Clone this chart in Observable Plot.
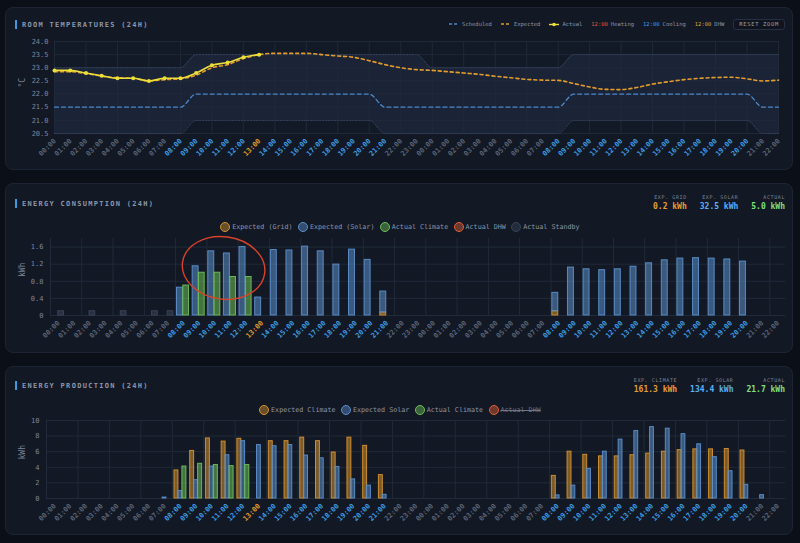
<!DOCTYPE html>
<html>
<head>
<meta charset="utf-8">
<script src="https://cdn.jsdelivr.net/npm/d3@7"></script>
<script src="https://cdn.jsdelivr.net/npm/@observablehq/plot@0.6"></script>
<style>
  html, body { margin: 0; padding: 0; }
  body { width: 800px; height: 543px; overflow: hidden; background: #0b0f17; font-family: "DejaVu Sans Mono", monospace; position: relative; }
  .panel { position: absolute; left: 5px; width: 788px; background: #121824; border: 1px solid #1d2433; border-radius: 8px; box-sizing: border-box; }
  .title { position: absolute; left: 15px; height: 9px; display: flex; align-items: center; font-size: 7px; font-weight: bold; letter-spacing: 1.3px; color: #8c96a9; }
  .title::before { content: ""; width: 2px; height: 9px; background: #3b9ae0; margin-right: 5px; }
  .chart { position: absolute; left: 0; }
  .stats { position: absolute; right: 15px; display: flex; gap: 13px; }
  .stat { display: flex; flex-direction: column; align-items: flex-end; }
  .stat .lab { font-size: 5px; letter-spacing: 0.6px; line-height: 6px; color: #7c8598; }
  .stat .val { font-size: 8px; font-weight: bold; line-height: 10px; margin-top: 1.5px; }
  .legend { position: absolute; left: 0; width: 800px; height: 10px; display: flex; justify-content: center; align-items: center; font-size: 6.7px; color: #8d96a8; }
  .legend .item { display: flex; align-items: center; margin: 0 2.8px; }
  .legend .sw { width: 8px; height: 8px; border-radius: 50%; border: 1px solid; margin-right: 1.8px; }
  .legend .off { text-decoration: line-through; opacity: 0.75; }
  .toplegend { position: absolute; top: 19px; right: 15px; height: 10px; display: flex; align-items: center; font-size: 5.5px; color: #8d96a8; }
  .toplegend .item { display: flex; align-items: center; margin-right: 9px; }
  .toplegend svg { margin-right: 3px; }
  .toplegend .t { margin-right: 3px; }
  .btn { height: 11px; box-sizing: border-box; padding: 0 5px; border: 1px solid #273043; border-radius: 3px; background: #0f141f; display: flex; align-items: center; letter-spacing: 0.66px; color: #9aa3b5; }
</style>
</head>
<body>
<div class="panel" style="top:7px;height:163px"></div>
<div class="panel" style="top:183px;height:170px"></div>
<div class="panel" style="top:366px;height:169px"></div>

<div class="title" style="top:20px">ROOM TEMPERATURES (24H)</div>
<div class="title" style="top:199px">ENERGY CONSUMPTION (24H)</div>
<div class="title" style="top:381px">ENERGY PRODUCTION (24H)</div>

<div class="toplegend" id="tempLegend"></div>
<div class="stats" id="consStats" style="top:194px"></div>
<div class="stats" id="prodStats" style="top:377px"></div>
<div class="legend" id="consLegend" style="top:222px"></div>
<div class="legend" id="prodLegend" style="top:405px"></div>

<div class="chart" id="tempChart" style="top:35px"></div>
<div class="chart" id="consChart" style="top:232px"></div>
<div class="chart" id="prodChart" style="top:414px"></div>

<script>
// ---- Hour axis (two days, hourly) ----
const hourLabels = [
  "00:00","01:00","02:00","03:00","04:00","05:00","06:00","07:00","08:00","09:00","10:00","11:00",
  "12:00","13:00","14:00","15:00","16:00","17:00","18:00","19:00","20:00","21:00","22:00","23:00",
  "00:00","01:00","02:00","03:00","04:00","05:00","06:00","07:00","08:00","09:00","10:00","11:00",
  "12:00","13:00","14:00","15:00","16:00","17:00","18:00","19:00","20:00","21:00","22:00"
];
// o = idle, c = cooling, d = hot water
const hourMode = [
  "o","o","o","o","o","o","o","o","c","c","c","c","c","d","c","c","c","c","c","c","c","c","o","o",
  "o","o","o","o","o","o","o","o","c","c","c","c","c","c","c","c","c","c","c","c","c","o","o"
];

// ---- Room temperatures (°C) ----
const tempTicks = [20.5, 21.0, 21.5, 22.0, 22.5, 23.0, 23.5, 24.0];
const scheduledTemp = [
  21.5,21.5,21.5,21.5,21.5,21.5,21.5,21.5,21.5,22.0,22.0,22.0,22.0,22.0,22.0,22.0,22.0,22.0,22.0,22.0,22.0,21.5,21.5,21.5,
  21.5,21.5,21.5,21.5,21.5,21.5,21.5,21.5,21.5,22.0,22.0,22.0,22.0,22.0,22.0,22.0,22.0,22.0,22.0,22.0,22.0,21.5,21.5
];
const comfortLow = [
  20.5,20.5,20.5,20.5,20.5,20.5,20.5,20.5,20.5,21.0,21.0,21.0,21.0,21.0,21.0,21.0,21.0,21.0,21.0,21.0,21.0,20.5,20.5,20.5,
  20.5,20.5,20.5,20.5,20.5,20.5,20.5,20.5,20.5,21.0,21.0,21.0,21.0,21.0,21.0,21.0,21.0,21.0,21.0,21.0,21.0,20.5,20.5
];
const comfortHigh = [
  23.0,23.0,23.0,23.0,23.0,23.0,23.0,23.0,23.0,23.5,23.5,23.5,23.5,23.5,23.5,23.5,23.5,23.5,23.5,23.5,23.5,23.5,23.5,23.5,
  23.0,23.0,23.0,23.0,23.0,23.0,23.0,23.0,23.0,23.5,23.5,23.5,23.5,23.5,23.5,23.5,23.5,23.5,23.5,23.5,23.5,23.5,23.5
];
const expectedTemp = [
  22.85,22.85,22.78,22.68,22.62,22.6,22.5,22.55,22.58,22.72,23.0,23.12,23.35,23.5,23.55,23.55,23.55,23.5,23.45,23.4,23.27,23.12,23.0,22.93,
  22.9,22.85,22.8,22.75,22.68,22.62,22.56,22.53,22.52,22.4,22.27,22.18,22.17,22.25,22.38,22.47,22.55,22.6,22.63,22.64,22.58,22.5,22.53
];
const actualTemp = [22.9,22.9,22.8,22.7,22.6,22.6,22.5,22.6,22.6,22.8,23.1,23.2,23.4,23.5];

// ---- Energy consumption (kWh per hour) ----
const consTicks = [0, 0.4, 0.8, 1.2, 1.6];
const consSeries = ["Expected (Grid)", "Expected (Solar)", "Actual Climate", "Actual DHW", "Actual Standby"];
const consGrid = [
  0,0,0,0,0,0,0,0,0,0,0,0,0,0,0,0,0,0,0,0,0,0.07,0,0,
  0,0,0,0,0,0,0,0,0.10,0,0,0,0,0,0,0,0,0,0,0,0,0,0
];
const consSolar = [
  0,0,0,0,0,0,0,0,0.65,1.15,1.50,1.45,1.60,0.42,1.53,1.52,1.61,1.50,1.19,1.54,1.30,0.49,0,0,
  0,0,0,0,0,0,0,0,0.43,1.12,1.08,1.06,1.08,1.14,1.22,1.29,1.33,1.34,1.33,1.31,1.26,0,0
];
const consClimate = [
  0,0,0,0,0,0,0,0,0.70,1.00,1.00,0.90,0.90,0,0,0,0,0,0,0,0,0,0,0,
  0,0,0,0,0,0,0,0,0,0,0,0,0,0,0,0,0,0,0,0,0,0,0
];
const consDhw = [
  0,0,0,0,0,0,0,0,0,0,0,0,0,0,0,0,0,0,0,0,0,0,0,0,
  0,0,0,0,0,0,0,0,0,0,0,0,0,0,0,0,0,0,0,0,0,0,0
];
const consStandby = [
  0.1,0,0.1,0,0.1,0,0.1,0.1,0,0,0,0,0,0,0,0,0,0,0,0,0,0,0,0,
  0,0,0,0,0,0,0,0,0,0,0,0,0,0,0,0,0,0,0,0,0,0,0
];
const consTotals = [
  {label: "EXP. GRID", value: "0.2 kWh", color: "#e3a033"},
  {label: "EXP. SOLAR", value: "32.5 kWh", color: "#5cb0f2"},
  {label: "ACTUAL", value: "5.0 kWh", color: "#7fe07a"}
];

// ---- Energy production (kWh per hour) ----
const prodTicks = [0, 2, 4, 6, 8, 10];
const prodSeries = ["Expected Climate", "Expected Solar", "Actual Climate", "Actual DHW"];
const prodHidden = ["Actual DHW"];
const prodClimate = [
  0,0,0,0,0,0,0,0,3.6,6.1,7.7,7.3,7.65,0,7.35,7.35,7.8,7.35,5.9,7.8,6.75,3.0,0,0,
  0,0,0,0,0,0,0,0,2.9,6.0,5.6,5.4,5.4,5.55,5.75,6.0,6.2,6.3,6.3,6.35,6.15,0,0
];
const prodSolar = [
  0,0,0,0,0,0,0,0.12,0.95,2.35,4.1,5.55,7.35,6.85,6.7,6.85,5.5,5.15,4.05,2.45,1.65,0.47,0,0,
  0,0,0,0,0,0,0,0,0.4,1.65,3.8,6.0,7.55,8.65,9.15,8.95,8.25,6.95,5.3,3.5,1.75,0.43,0
];
const prodActualClimate = [
  0,0,0,0,0,0,0,0,4.1,4.45,4.3,4.15,4.3,0,0,0,0,0,0,0,0,0,0,0,
  0,0,0,0,0,0,0,0,0,0,0,0,0,0,0,0,0,0,0,0,0,0,0
];
const prodActualDhw = [
  0,0,0,0,0,0,0,0,0,0,0,0,0,0,0,0,0,0,0,0,0,0,0,0,
  0,0,0,0,0,0,0,0,0,0,0,0,0,0,0,0,0,0,0,0,0,0,0
];
const prodTotals = [
  {label: "EXP. CLIMATE", value: "161.3 kWh", color: "#e3a033"},
  {label: "EXP. SOLAR", value: "134.4 kWh", color: "#5cb0f2"},
  {label: "ACTUAL", value: "21.7 kWh", color: "#7fe07a"}
];

// ---- Styling ----
const FONT = "DejaVu Sans Mono, monospace";
const GRID = "#212a3a";
const seriesColor = {
  "Expected (Grid)": "#d4922e", "Expected (Solar)": "#5b8fcb", "Actual Climate": "#6dbf58",
  "Actual DHW": "#e0603a", "Actual Standby": "#3a4458",
  "Expected Climate": "#d4922e", "Expected Solar": "#5b8fcb"
};
const modeColor = {o: "#5a6376", c: "#3e9de2", d: "#e09c2c"};
const hourIdx = hourLabels.map((_, i) => i);
const evenHours = hourIdx.filter(i => i % 2 === 0);

function hourLabelMarks(offset) {
  return Object.entries(modeColor).map(([mode, color]) =>
    Plot.text(hourIdx.filter(i => hourMode[i] === mode), {
      x: i => i + offset, text: i => hourLabels[i], frameAnchor: "bottom",
      rotate: -45, textAnchor: "end", dx: 2, dy: 8, fill: color, fontWeight: "bold", fontSize: 7
    })
  );
}
function unitLabel(text, dx) {
  return Plot.text([text], {frameAnchor: "left", dx, rotate: -90, fill: "#7f889b", fontSize: 8});
}
const baseStyle = {background: "transparent", fontFamily: FONT, fontSize: "7px", color: "#7d869a", overflow: "visible"};

// ---- Header legend for temperatures ----
const tempLegend = document.getElementById("tempLegend");
tempLegend.innerHTML = `
  <div class="item"><svg width="10" height="4"><line x1="0" x2="10" y1="2" y2="2" stroke="#4b88cc" stroke-width="1.4" stroke-dasharray="3,2"/></svg>Scheduled</div>
  <div class="item"><svg width="10" height="4"><line x1="0" x2="10" y1="2" y2="2" stroke="#e39b2b" stroke-width="1.4" stroke-dasharray="3,2"/></svg>Expected</div>
  <div class="item"><svg width="10" height="5"><line x1="0" x2="10" y1="2.5" y2="2.5" stroke="#ecdf3a" stroke-width="1.4"/><circle cx="5" cy="2.5" r="1.8" fill="#ecdf3a"/></svg>Actual</div>
  <div class="item"><span class="t" style="color:#e0553a">12:00</span>Heating</div>
  <div class="item"><span class="t" style="color:#3e9de2">12:00</span>Cooling</div>
  <div class="item"><span class="t" style="color:#e09c2c">12:00</span>DHW</div>
  <div class="btn">RESET ZOOM</div>`;

function renderStats(id, totals) {
  document.getElementById(id).innerHTML = totals.map(t =>
    `<div class="stat"><div class="lab">${t.label}</div><div class="val" style="color:${t.color}">${t.value}</div></div>`).join("");
}
renderStats("consStats", consTotals);
renderStats("prodStats", prodTotals);

function renderLegend(id, series, hidden = []) {
  document.getElementById(id).innerHTML = series.map(s => {
    const c = seriesColor[s];
    const sw = `<div class="sw" style="border-color:${c};background:${d3.color(c).copy({opacity: 0.45})}"></div>`;
    return `<div class="item">${sw}<span class="${hidden.includes(s) ? "off" : ""}">${s}</span></div>`;
  }).join("");
}
renderLegend("consLegend", consSeries);
renderLegend("prodLegend", prodSeries, prodHidden);

// ---- Room temperature chart ----
const tempRows = hourIdx.map(i => ({i, sched: scheduledTemp[i], exp: expectedTemp[i], lo: comfortLow[i], hi: comfortHigh[i]}));
const actualRows = actualTemp.map((v, i) => ({i, v}));

const tempPlot = Plot.plot({
  width: 800, height: 133, marginLeft: 54, marginRight: 22, marginTop: 6, marginBottom: 35,
  style: baseStyle,
  x: {domain: [0, 46], axis: null},
  y: {domain: [20.5, 24], axis: null},
  marks: [
    Plot.frame({fill: "#131a27", stroke: null}),
    Plot.areaY(tempRows, {x: "i", y1: "lo", y2: "hi", fill: "#1b2437", curve: "monotone-x"}),
    Plot.ruleY(tempTicks, {stroke: GRID, strokeOpacity: 0.9}),
    Plot.ruleX(evenHours, {stroke: GRID, strokeOpacity: 0.9}),
    Plot.lineY(tempRows, {x: "i", y: "lo", stroke: "#34435c", strokeWidth: 1, strokeDasharray: "1.5,1.5", curve: "monotone-x"}),
    Plot.lineY(tempRows, {x: "i", y: "hi", stroke: "#34435c", strokeWidth: 1, strokeDasharray: "1.5,1.5", curve: "monotone-x"}),
    Plot.lineY(tempRows, {x: "i", y: "sched", stroke: "#4b88cc", strokeWidth: 1.3, strokeDasharray: "4,3", curve: "monotone-x"}),
    Plot.lineY(tempRows, {x: "i", y: "exp", stroke: "#e39b2b", strokeWidth: 1.6, strokeDasharray: "3,3", curve: "monotone-x"}),
    Plot.lineY(actualRows, {x: "i", y: "v", stroke: "#ecdf3a", strokeWidth: 1.6, curve: "monotone-x"}),
    Plot.dot(actualRows, {x: "i", y: "v", r: 2, fill: "#ecdf3a"}),
    Plot.axisY(tempTicks, {tickSize: 0, tickPadding: 6, tickFormat: d => d.toFixed(1), label: null, fill: "#7d869a"}),
    unitLabel("°C", -32),
    ...hourLabelMarks(0)
  ]
});
document.getElementById("tempChart").append(tempPlot);

// ---- Bar helpers ----
function rows(seriesArrays) {
  const out = [];
  hourIdx.forEach(i => {
    for (const [series, arr] of seriesArrays) if (arr[i] > 0) out.push({i, series, v: arr[i]});
  });
  return out;
}
function bars(data, insetLeft, insetRight) {
  return Plot.rectY(data, {
    x: "i", interval: 1, y: "v", fill: "series", stroke: "series",
    fillOpacity: 0.55, strokeOpacity: 0.95, strokeWidth: 1, insetLeft, insetRight
  });
}

// ---- Energy consumption chart ----
const consExpected = rows([["Expected (Grid)", consGrid], ["Expected (Solar)", consSolar]]);
const consActual = rows([["Actual Climate", consClimate], ["Actual DHW", consDhw], ["Actual Standby", consStandby]]);

const consPlot = Plot.plot({
  width: 800, height: 119, marginLeft: 50, marginRight: 15, marginTop: 6, marginBottom: 36,
  style: baseStyle,
  x: {domain: [0, 47], axis: null},
  y: {domain: [0, 1.8], axis: null},
  color: {domain: consSeries, range: consSeries.map(s => seriesColor[s])},
  marks: [
    Plot.ruleY(consTicks, {stroke: GRID}),
    Plot.ruleX(evenHours, {stroke: GRID}),
    bars(consExpected, 1.4, 8.3),
    bars(consActual, 7.7, 2.2),
    Plot.axisY(consTicks, {tickSize: 0, tickPadding: 7, tickFormat: d => d === 0 ? "0" : d.toFixed(1), label: null, fill: "#7d869a"}),
    unitLabel("kWh", -28),
    ...hourLabelMarks(0.5)
  ]
});
document.getElementById("consChart").append(consPlot);

// highlighted group of morning bars
const focus = {x: 11.1, y: 1.1, rx: 2.65, ry: 0.73, angle: 8};
{
  const sx = consPlot.scale("x"), sy = consPlot.scale("y");
  const cx = sx.apply(focus.x), cy = sy.apply(focus.y);
  const rx = sx.apply(focus.x + focus.rx) - cx, ry = cy - sy.apply(focus.y + focus.ry);
  d3.select(consPlot).append("ellipse")
    .attr("cx", cx).attr("cy", cy).attr("rx", rx).attr("ry", ry)
    .attr("transform", `rotate(${focus.angle},${cx},${cy})`)
    .attr("fill", "none").attr("stroke", "#d8432a").attr("stroke-width", 1.4);
}

// ---- Energy production chart ----
const prodExpClimate = rows([["Expected Climate", prodClimate]]);
const prodExpSolar = rows([["Expected Solar", prodSolar]]);
const prodActual = rows([["Actual Climate", prodActualClimate], ["Actual DHW", prodActualDhw]])
  .filter(d => !prodHidden.includes(d.series));

const prodPlot = Plot.plot({
  width: 800, height: 120, marginLeft: 46, marginRight: 15, marginTop: 6, marginBottom: 36,
  style: baseStyle,
  x: {domain: [0, 47], axis: null},
  y: {domain: [0, 10], axis: null},
  color: {domain: prodSeries, range: prodSeries.map(s => seriesColor[s])},
  marks: [
    Plot.ruleY(prodTicks, {stroke: GRID}),
    Plot.ruleX(evenHours, {stroke: GRID}),
    bars(prodExpClimate, 2.2, 9.6),
    bars(prodExpSolar, 6.1, 5.8),
    bars(prodActual, 10.1, 1.6),
    Plot.axisY(prodTicks, {tickSize: 0, tickPadding: 7, label: null, fill: "#7d869a"}),
    unitLabel("kWh", -24),
    ...hourLabelMarks(0.5)
  ]
});
document.getElementById("prodChart").append(prodPlot);
</script>
</body>
</html>
